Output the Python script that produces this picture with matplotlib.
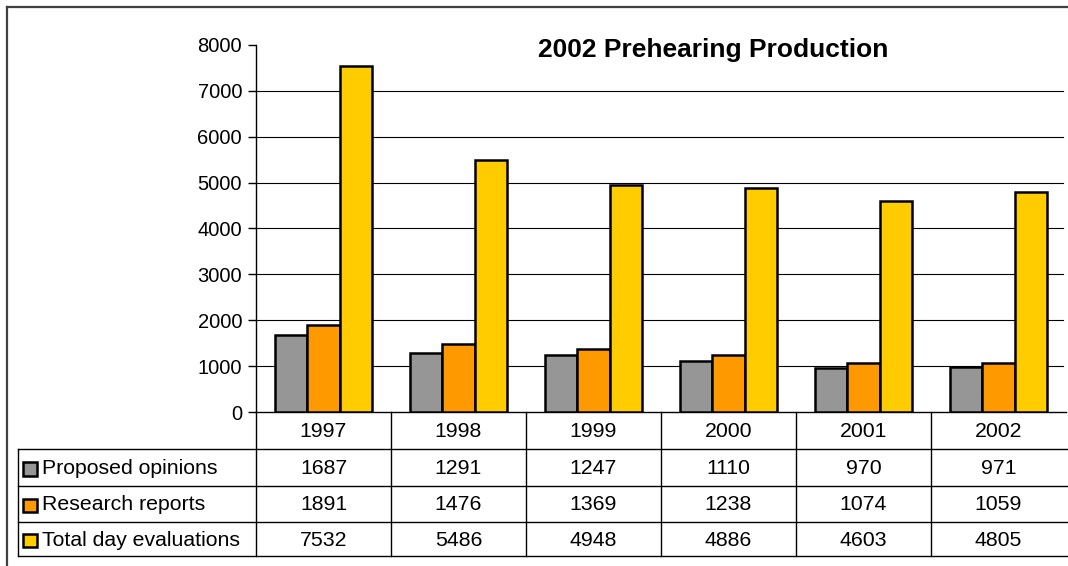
import matplotlib
matplotlib.use("Agg")
import matplotlib.pyplot as plt
from matplotlib.patches import Rectangle
from matplotlib.lines import Line2D

years = ["1997", "1998", "1999", "2000", "2001", "2002"]
series_names = ["Proposed opinions", "Research reports", "Total day evaluations"]
proposed = [1687, 1291, 1247, 1110, 970, 971]
research = [1891, 1476, 1369, 1238, 1074, 1059]
total = [7532, 5486, 4948, 4886, 4603, 4805]
colors = ["#969696", "#FF9900", "#FFCC00"]
title = "2002 Prehearing Production"

plt.rcParams['font.family'] = ['Liberation Sans', 'DejaVu Sans']

W, H = 1068, 566
fig = plt.figure(figsize=(W / 100, H / 100), dpi=100)

def fx(px):
    return px / W

def fy(py):
    return 1 - py / H

# outer frame (only top and left visible)
fig.add_artist(Line2D([fx(7), fx(1068)], [fy(7), fy(7)], color="#404040", lw=1.6))
fig.add_artist(Line2D([fx(7), fx(7)], [fy(7), fy(566)], color="#404040", lw=1.6))

# main axes
L, R, T, B = 256, 1066, 45, 412
ax = fig.add_axes([fx(L), fy(B), fx(R - L), (B - T) / H])
n = len(years)
ax.set_xlim(0, n)
ax.set_ylim(0, 8000)
ax.set_yticks(range(0, 8001, 1000))
ax.set_yticklabels([str(v) for v in range(0, 8001, 1000)], fontsize=14.5)
ax.tick_params(axis='y', length=6, width=1, color="black", pad=4)
ax.set_xticks([])
for s in ["top", "right"]:
    ax.spines[s].set_visible(False)
ax.spines["left"].set_linewidth(1)
ax.spines["bottom"].set_linewidth(1)
for v in range(1000, 8000, 1000):
    ax.axhline(v, xmin=0, xmax=(1063 - L) / (R - L), color="black", lw=0.8, zorder=0)

bw = 0.24
data = [proposed, research, total]
for k, (vals, c) in enumerate(zip(data, colors)):
    xs = [i + 0.5 + (k - 1) * bw for i in range(n)]
    ax.bar(xs, vals, width=bw, color=c, edgecolor="black", linewidth=1.8, zorder=3)

fig.text(fx(713.5), fy(50), title, fontsize=19, fontweight="bold", ha="center", va="center")

# data table
tab = fig.add_axes([0, 0, 1, 1], zorder=5)
tab.set_xlim(0, W)
tab.set_ylim(H, 0)
tab.axis("off")
tab.patch.set_alpha(0)
col_w = (R - L) / n
rows_y = [412, 449, 486, 522, 556]
lc = "black"
lw = 1
# vertical lines
for i in range(n):
    x = L + i * col_w
    tab.plot([x, x], [412, 556], color=lc, lw=lw)
tab.plot([18, 18], [449, 556], color=lc, lw=lw)
for y in rows_y[1:]:
    tab.plot([18, W], [y, y], color=lc, lw=lw)
fs = 15.3
# header
for i, yr in enumerate(years):
    tab.text(L + (i + 0.5) * col_w, (412 + 449) / 2 + 1, yr, ha="center", va="center", fontsize=fs)
# rows
for r, (name, vals, c) in enumerate(zip(series_names, data, colors)):
    y0, y1 = rows_y[r + 1], rows_y[r + 2]
    yc = (y0 + y1) / 2
    tab.add_patch(Rectangle((23, yc - 5.5), 13.5, 13.5, facecolor=c, edgecolor="black", lw=1.8))
    tab.text(42, yc + 1, name, ha="left", va="center", fontsize=fs)
    for i, v in enumerate(vals):
        tab.text(L + (i + 0.5) * col_w, yc + 1, str(v), ha="center", va="center", fontsize=fs)

fig.savefig("out.png", dpi=100)
